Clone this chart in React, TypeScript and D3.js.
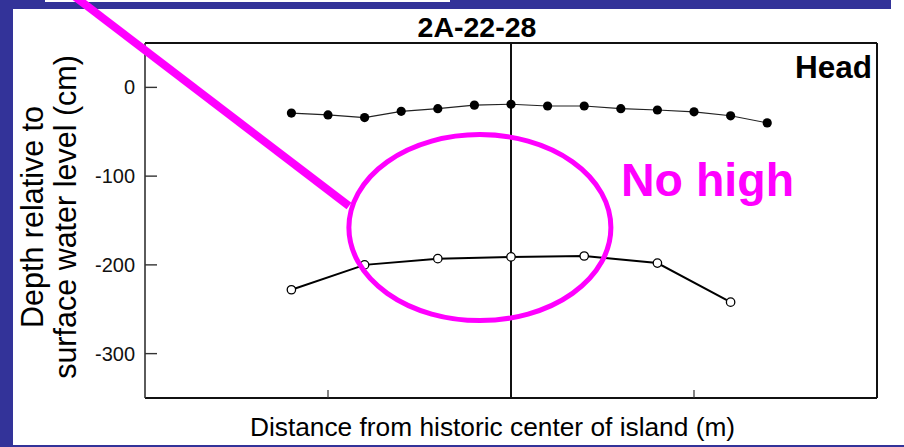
import React from "react";
import * as d3 from "d3";

// Well transect 2A-22-28: hydraulic head vs. water level at each well
const headDistances = [-120, -100, -80, -60, -40, -20, 0, 20, 40, 60, 80, 100, 120, 140];
const headDepths = [-29, -31, -34, -27, -24, -20, -19, -21, -21, -24, -25.5, -27.5, -32, -40];

const wellDistances = [-120, -80, -40, 0, 40, 80, 120];
const wellDepths = [-228, -200, -193, -191, -190, -198, -242];

const yTickValues = [0, -100, -200, -300];
const xTickValues = [-100, 100];

const chartTitle = "2A-22-28";
const panelTag = "Head";
const calloutText = "No high";
const xLabel = "Distance from historic center of island (m)";
const yLabelLines = ["Depth relative to", "surface water level (cm)"];

const W = 904;
const H = 447;
const NAVY = "#333399";
const MAGENTA = "#ff00ff";
const FONT = "'Liberation Sans', Arial, Helvetica, sans-serif";

const plot = { left: 145, right: 877, top: 43, bottom: 398 };

export default function App() {
  const x = d3.scaleLinear().domain([-200, 200]).range([plot.left, plot.right]);
  const y = d3.scaleLinear().domain([-350, 50]).range([plot.bottom, plot.top]);

  const headPts: [number, number][] = headDistances.map((d, i) => [d, headDepths[i]]);
  const wellPts: [number, number][] = wellDistances.map((d, i) => [d, wellDepths[i]]);

  const line = d3
    .line<[number, number]>()
    .x((d) => x(d[0]))
    .y((d) => y(d[1]));

  return (
    <svg
      width={W}
      height={H}
      style={{ position: "fixed", left: 0, top: 0, display: "block" }}
      fontFamily={FONT}
    >
      {/* slide frame */}
      <rect x={0} y={0} width={W} height={H} fill="#ffffff" />
      <rect x={0} y={0} width={13} height={H} fill={NAVY} />
      <rect x={0} y={2} width={891} height={7} fill={NAVY} />
      <rect x={0} y={0} width={45} height={2} fill={NAVY} />
      <rect x={450} y={0} width={441} height={2} fill={NAVY} />
      <rect x={0} y={445} width={W} height={2} fill={NAVY} />

      {/* plot frame */}
      <line x1={plot.left} x2={plot.right} y1={plot.top} y2={plot.top} stroke="#111" strokeWidth={2} />
      <line x1={plot.right} x2={plot.right} y1={plot.top} y2={plot.bottom} stroke="#111" strokeWidth={2} />
      <line x1={plot.left} x2={plot.right} y1={plot.bottom} y2={plot.bottom} stroke="#111" strokeWidth={2} />
      <line x1={plot.left} x2={plot.left} y1={plot.top} y2={plot.bottom} stroke="#333" strokeWidth={1.6} />

      {/* y ticks */}
      {yTickValues.map((v) => (
        <g key={v}>
          <line x1={plot.left} x2={plot.left + 12} y1={y(v)} y2={y(v)} stroke="#333" strokeWidth={1.4} />
          <text x={135} y={y(v) + 7} textAnchor="end" fontSize={20} fill="#111">
            {v}
          </text>
        </g>
      ))}

      {/* x ticks */}
      {xTickValues.map((v) => (
        <line key={v} x1={x(v)} x2={x(v)} y1={plot.bottom} y2={plot.bottom - 8} stroke="#333" strokeWidth={1.2} />
      ))}

      {/* island center line */}
      <line x1={x(0)} x2={x(0)} y1={plot.top} y2={plot.bottom} stroke="#111" strokeWidth={2} />

      {/* head series */}
      <path d={line(headPts) ?? ""} fill="none" stroke="#222" strokeWidth={1.2} />
      {headPts.map((p, i) => (
        <circle key={i} cx={x(p[0])} cy={y(p[1])} r={4.6} fill="#000" />
      ))}

      {/* water level series */}
      <path d={line(wellPts) ?? ""} fill="none" stroke="#000" strokeWidth={2} />
      {wellPts.map((p, i) => (
        <circle key={i} cx={x(p[0])} cy={y(p[1])} r={4.2} fill="#fff" stroke="#000" strokeWidth={1.3} />
      ))}

      {/* titles */}
      <text x={477} y={37} textAnchor="middle" fontSize={28.5} fontWeight="bold" fill="#000">
        {chartTitle}
      </text>
      <text x={872} y={78} textAnchor="end" fontSize={31.5} fontWeight="bold" fill="#000">
        {panelTag}
      </text>
      <text x={492.5} y={436} textAnchor="middle" fontSize={26.3} fill="#000">
        {xLabel}
      </text>
      {yLabelLines.map((t, i) => (
        <text
          key={i}
          transform={`translate(${43 + i * 33},217) rotate(-90)`}
          textAnchor="middle"
          fontSize={30.5}
          fill="#000"
        >
          {t}
        </text>
      ))}

      {/* callout */}
      <ellipse
        cx={x(-17)}
        cy={y(-158)}
        rx={131}
        ry={93}
        fill="none"
        stroke={MAGENTA}
        strokeWidth={5}
      />
      <line x1={74} y1={-4} x2={349} y2={206} stroke={MAGENTA} strokeWidth={8} />
      <text x={621} y={196} fontSize={46.5} fontWeight="bold" fill={MAGENTA}>
        {calloutText}
      </text>
    </svg>
  );
}
